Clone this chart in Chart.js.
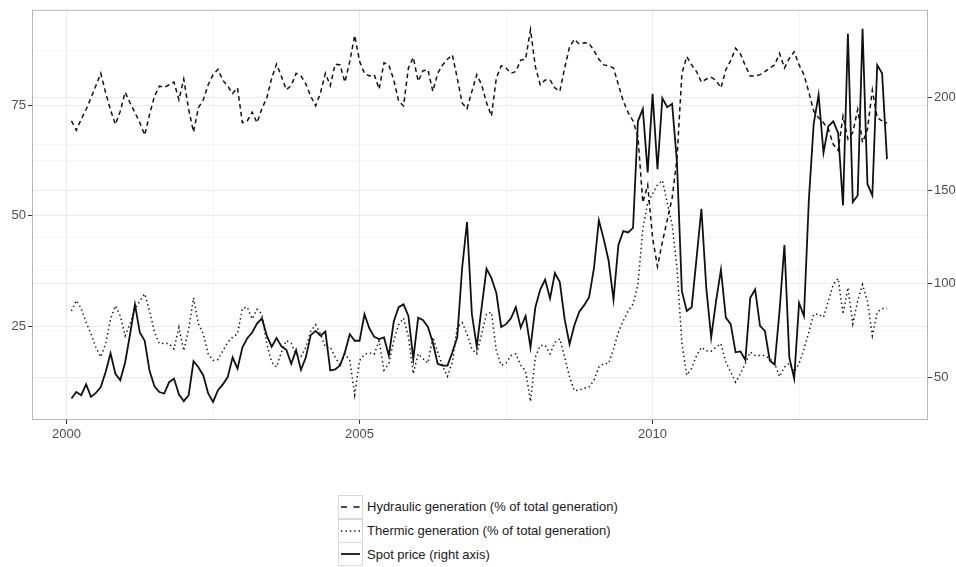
<!DOCTYPE html>
<html>
<head>
<meta charset="utf-8">
<script src="https://cdn.jsdelivr.net/npm/chart.js@4"></script>
<style>
  body { margin: 0; background: #fff; font-family: "Liberation Sans", Arial, sans-serif; }
  #wrap { position: relative; width: 956px; height: 567px; }
  #box { position: absolute; left: 0; top: 0; width: 956px; height: 450px; }
  .legend { position: absolute; left: 338px; top: 495px; }
  .row { height: 23.7px; display: flex; align-items: center; }
  .row svg { display: block; }
  .row span { margin-left: 4px; font-size: 13px; color: #1a1a1a; }
</style>
</head>
<body>
<div id="wrap">
  <div id="box"><canvas id="spotChart"></canvas></div>
  <div class="legend">
    <div class="row">
      <svg width="25" height="24"><rect x="0.5" y="0.5" width="24" height="23" fill="#fff" stroke="#d9d9d9"/>
        <line x1="3" y1="12" x2="22" y2="12" stroke="#111" stroke-width="1.6" stroke-dasharray="6 6.5"/></svg>
      <span>Hydraulic generation (% of total generation)</span>
    </div>
    <div class="row">
      <svg width="25" height="24"><rect x="0.5" y="0.5" width="24" height="23" fill="#fff" stroke="#d9d9d9"/>
        <line x1="3" y1="12" x2="22" y2="12" stroke="#111" stroke-width="1.4" stroke-dasharray="1.4 3"/></svg>
      <span>Thermic generation (% of total generation)</span>
    </div>
    <div class="row">
      <svg width="25" height="24"><rect x="0.5" y="0.5" width="24" height="23" fill="#fff" stroke="#d9d9d9"/>
        <line x1="3" y1="12" x2="22" y2="12" stroke="#111" stroke-width="1.8"/></svg>
      <span>Spot price (right axis)</span>
    </div>
  </div>
</div>
<script>
// monthly series, Jan 2000 .. Dec 2013
var startYear = 2000;
var nMonths = 168;

var hydraulic = [
  71.5, 69.4, 71.9, 74.1, 76.7, 79.5, 82.3, 77.9, 74.0, 70.7, 73.7, 78.0,
  75.6, 73.4, 71.1, 68.3, 73.0, 77.1, 79.4, 79.1, 79.7, 80.3, 76.3, 81.0,
  74.1, 69.0, 74.5, 76.3, 79.7, 82.0, 83.2, 80.7, 79.4, 77.7, 79.0, 71.1,
  71.5, 73.5, 71.1, 74.3, 76.7, 81.2, 84.4, 81.6, 78.6, 79.5, 82.3, 81.7,
  79.9, 77.1, 74.9, 77.9, 82.3, 79.5, 84.4, 84.2, 80.3, 85.0, 90.9, 85.0,
  82.3, 81.7, 82.0, 78.7, 84.7, 84.2, 80.8, 76.0, 74.9, 83.5, 85.9, 80.5,
  82.9, 83.1, 78.2, 82.3, 84.2, 85.5, 86.5, 81.2, 75.6, 74.3, 78.2, 82.0,
  79.7, 75.6, 72.6, 81.2, 84.0, 83.5, 82.3, 82.7, 85.3, 85.5, 92.2, 83.8,
  79.7, 80.8, 80.8, 79.0, 78.2, 83.5, 88.3, 90.0, 88.9, 89.2, 89.1, 87.4,
  85.5, 84.2, 84.0, 83.5, 79.7, 76.0, 73.4, 71.5, 68.0, 53.0, 57.0, 45.0,
  38.5, 44.0, 49.0, 54.0, 63.0, 82.2, 86.1, 84.2, 82.7, 80.3, 81.0, 81.4,
  80.7, 79.0, 83.1, 85.2, 88.0, 86.7, 84.0, 81.7, 81.7, 82.0, 82.7, 83.5,
  84.2, 86.8, 83.5, 85.7, 87.2, 84.2, 82.0, 78.0, 73.7, 72.2, 71.1, 69.6,
  66.2, 64.8, 72.6, 67.4, 68.9, 74.1, 66.6, 69.6, 78.5, 72.2, 71.5, 71.0
];

var thermic = [
  28.4, 30.8, 29.0, 25.8, 23.2, 20.2, 18.0, 21.0, 26.6, 29.6, 27.3, 22.8,
  25.5, 28.8, 30.7, 32.3, 28.4, 23.6, 21.0, 21.1, 21.0, 19.8, 24.7, 19.4,
  24.3, 31.4, 25.5, 23.2, 18.7, 17.2, 17.4, 19.4, 21.3, 22.5, 23.2, 29.0,
  29.3, 26.6, 28.8, 27.7, 21.0, 16.8, 15.7, 19.1, 21.7, 21.1, 18.6, 18.1,
  20.2, 23.8, 25.3, 23.2, 20.2, 20.2, 18.0, 16.1, 18.7, 17.2, 9.4, 17.2,
  18.6, 18.9, 18.6, 21.7, 15.0, 16.5, 21.7, 25.3, 26.8, 22.5, 14.2, 18.7,
  17.6, 16.6, 22.5, 19.1, 15.9, 13.6, 16.8, 24.7, 25.8, 23.2, 19.8, 18.7,
  23.2, 27.8, 28.1, 19.4, 16.1, 16.6, 18.3, 18.7, 16.1, 14.8, 7.9, 18.0,
  20.6, 20.6, 18.7, 21.3, 22.1, 18.0, 13.5, 10.3, 10.5, 10.9, 11.2, 12.7,
  15.7, 16.5, 16.5, 19.8, 23.6, 26.2, 28.4, 30.0, 34.4, 47.0, 53.0, 55.0,
  57.0, 58.0, 53.0, 48.0, 38.2, 21.0, 13.9, 15.4, 18.3, 20.2, 19.4, 19.3,
  20.2, 21.0, 16.8, 14.6, 12.3, 14.2, 16.5, 19.1, 18.3, 18.3, 18.3, 17.6,
  16.5, 13.5, 15.7, 16.5, 14.6, 16.5, 19.8, 23.6, 27.7, 27.7, 27.0, 30.7,
  34.4, 35.8, 27.7, 33.7, 25.5, 30.7, 34.4, 30.7, 22.8, 28.1, 29.0, 29.0
];

var spot = [
  38.5, 42.0, 40.3, 46.1, 39.4, 41.5, 44.7, 52.7, 62.8, 51.8, 48.3, 58.0,
  73.0, 89.0, 73.9, 69.5, 53.2, 45.1, 42.0, 41.2, 47.3, 49.2, 40.8, 37.1,
  40.3, 58.5, 55.3, 50.9, 41.2, 36.7, 43.0, 46.1, 50.0, 60.6, 54.5, 65.9,
  70.9, 73.9, 78.7, 81.5, 72.2, 66.3, 70.9, 66.5, 64.7, 57.1, 64.5, 53.9,
  60.6, 72.5, 74.8, 72.2, 74.4, 53.6, 54.1, 56.2, 63.3, 73.0, 69.5, 69.5,
  83.7, 76.2, 71.6, 70.4, 71.3, 61.5, 79.8, 87.5, 89.0, 82.8, 59.8, 81.9,
  80.5, 76.9, 68.6, 57.1, 56.2, 56.2, 63.3, 71.3, 108.4, 133.2, 83.7, 66.3,
  87.5, 108.1, 103.1, 95.2, 76.9, 78.4, 81.5, 87.5, 76.5, 82.8, 65.9, 87.5,
  97.0, 102.3, 92.2, 105.8, 101.0, 81.0, 67.7, 78.0, 85.1, 88.6, 92.9, 108.4,
  134.1, 124.0, 112.4, 91.6, 120.9, 128.3, 127.6, 130.0, 187.2, 193.8, 159.8, 201.9,
  161.5, 199.6, 194.8, 196.6, 165.1, 96.1, 85.5, 87.5, 113.7, 140.3, 97.8, 71.3,
  90.7, 107.6, 81.9, 78.4, 63.3, 63.8, 59.2, 92.5, 97.0, 77.5, 74.8, 58.9,
  56.7, 85.5, 120.9, 60.6, 49.2, 89.8, 82.8, 145.0, 186.0, 201.4, 170.4, 184.6,
  187.2, 181.0, 142.1, 234.2, 143.9, 147.4, 236.8, 153.6, 147.4, 217.3, 212.9, 166.9
];

var xTicks = [2000, 2005, 2010];
var xMinor = [2002.5, 2007.5, 2012.5];
var leftTicks = [25, 50, 75];
var leftMinor = [12.5, 37.5, 62.5, 87.5];
var rightTicks = [50, 100, 150, 200];
var rightMinor = [75, 125, 175, 225];

// month m (1..12) of year y sits at y + m/12
var months = [];
for (var i = 0; i < nMonths; i++) {
  months.push(startYear + Math.floor(i / 12) + ((i % 12) + 1) / 12);
}
function pts(arr) {
  return arr.map(function (v, i) { return { x: months[i], y: v }; });
}

var tickFont = { family: '"Liberation Sans", Arial, sans-serif', size: 13 };
var gridMajor = '#ebebeb';
var gridMinor = '#f5f5f5';

function setTicks(major, minor) {
  return function (scale) {
    scale.ticks = major.concat(minor).sort(function (a, b) { return a - b; })
      .map(function (v) { return { value: v, major: major.indexOf(v) >= 0 }; });
  };
}
function isMajor(ctx, major) {
  return ctx.tick && major.indexOf(ctx.tick.value) >= 0;
}

var panelBorder = {
  id: 'panelBorder',
  afterDraw: function (chart) {
    var a = chart.chartArea, c = chart.ctx;
    c.save();
    c.strokeStyle = '#b8b8b8';
    c.lineWidth = 1;
    c.strokeRect(a.left + 0.5, a.top + 0.5, a.right - a.left - 1, a.bottom - a.top - 1);
    c.restore();
  }
};

var spotChart = new Chart(document.getElementById('spotChart'), {
  type: 'line',
  data: {
    datasets: [{
      label: 'Hydraulic generation (% of total generation)',
      data: pts(hydraulic),
      yAxisID: 'y',
      borderColor: '#111',
      borderWidth: 1.5,
      borderDash: [4.5, 3.5],
      pointRadius: 0
    }, {
      label: 'Thermic generation (% of total generation)',
      data: pts(thermic),
      yAxisID: 'y',
      borderColor: '#111',
      borderWidth: 1.5,
      borderDash: [1.4, 3],
      pointRadius: 0
    }, {
      label: 'Spot price (right axis)',
      data: pts(spot),
      yAxisID: 'y2',
      borderColor: '#111',
      borderWidth: 1.8,
      pointRadius: 0
    }]
  },
  options: {
    responsive: true,
    maintainAspectRatio: false,
    animation: false,
    layout: { padding: { top: 6, left: 0, right: 0, bottom: 0 } },
    plugins: { legend: { display: false }, tooltip: { enabled: false } },
    scales: {
      x: {
        type: 'linear',
        min: 1999.41,
        max: 2014.70,
        afterBuildTicks: setTicks(xTicks, xMinor),
        afterFit: function (s) { s.height = 30; },
        border: { display: false },
        grid: {
          color: function (c) { return isMajor(c, xTicks) ? gridMajor : gridMinor; },
          tickColor: function (c) { return isMajor(c, xTicks) ? '#333' : 'rgba(0,0,0,0)'; },
          tickLength: 4
        },
        ticks: {
          font: tickFont, color: '#4d4d4d', padding: 3, maxRotation: 0, autoSkip: false,
          callback: function (v) { return xTicks.indexOf(v) >= 0 ? String(v) : ''; }
        }
      },
      y: {
        position: 'left',
        min: 3.7,
        max: 96.7,
        afterBuildTicks: setTicks(leftTicks, leftMinor),
        afterFit: function (s) { s.width = 32; },
        border: { display: false },
        grid: {
          color: function (c) { return isMajor(c, leftTicks) ? gridMajor : gridMinor; },
          tickColor: function (c) { return isMajor(c, leftTicks) ? '#333' : 'rgba(0,0,0,0)'; },
          tickLength: 4
        },
        ticks: {
          font: tickFont, color: '#4d4d4d', padding: 2, autoSkip: false,
          callback: function (v) { return leftTicks.indexOf(v) >= 0 ? String(v) : ''; }
        }
      },
      y2: {
        position: 'right',
        min: 27,
        max: 247,
        afterBuildTicks: setTicks(rightTicks, rightMinor),
        afterFit: function (s) { s.width = 28; },
        border: { display: false },
        grid: {
          drawOnChartArea: true,
          color: function (c) { return isMajor(c, rightTicks) ? gridMajor : gridMinor; },
          tickColor: function (c) { return isMajor(c, rightTicks) ? '#333' : 'rgba(0,0,0,0)'; },
          tickLength: 4
        },
        ticks: {
          font: tickFont, color: '#4d4d4d', padding: 2, autoSkip: false,
          callback: function (v) { return rightTicks.indexOf(v) >= 0 ? String(v) : ''; }
        }
      }
    }
  },
  plugins: [panelBorder]
});
</script>
</body>
</html>
